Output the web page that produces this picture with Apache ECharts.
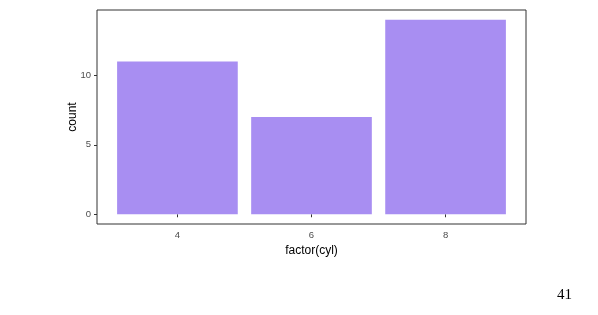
<!DOCTYPE html>
<html>
<head>
<meta charset="utf-8">
<script src="https://cdn.jsdelivr.net/npm/echarts@6/dist/echarts.min.js"></script>
<style>
html,body{margin:0;padding:0;background:#fff;}
#chart{width:598px;height:315px;}
</style>
</head>
<body>
<div id="chart"></div>
<script>
const categories = ['4', '6', '8'];
const counts = [11, 7, 14];
const yTicks = [0, 5, 10];
const xTitle = 'factor(cyl)';
const yTitle = 'count';
const pageNumber = '41';

const yMin = -0.7, yMax = 14.7;
const chart = echarts.init(document.getElementById('chart'), null, {renderer: 'canvas'});
const font = 'Liberation Sans, Arial, sans-serif';

chart.setOption({
  animation: false,
  backgroundColor: '#ffffff',
  title: {
    text: pageNumber,
    left: 552, top: 283,
    textStyle: {fontFamily: 'Liberation Serif, DejaVu Serif, serif', fontSize: 15, fontWeight: 'normal', color: '#000'}
  },
  grid: [
    {left: 110.4, right: 85.4, top: 10, bottom: 91, containLabel: false},
    {left: 97, right: 72, top: 10, bottom: 91, show: true, borderColor: '#333333', borderWidth: 1, backgroundColor: 'transparent', z: 10}
  ],
  xAxis: [
    {
      type: 'category', gridIndex: 0, data: categories,
      axisLine: {show: false},
      axisTick: {show: true, alignWithLabel: true, length: 3, lineStyle: {color: '#333333'}},
      axisLabel: {color: '#4D4D4D', fontSize: 9.5, fontFamily: font, margin: 6},
      name: xTitle, nameLocation: 'middle', nameGap: 20,
      nameTextStyle: {color: '#000', fontSize: 12, fontFamily: font},
      splitLine: {show: false}
    },
    {
      type: 'value', gridIndex: 1, show: false, min: 0, max: 1
    }
  ],
  yAxis: [
    {type: 'value', gridIndex: 0, min: yMin, max: yMax, show: false, splitLine: {show: false}},
    {
      type: 'value', gridIndex: 1, min: yMin, max: yMax,
      axisLine: {show: false},
      axisTick: {show: true, length: 3, customValues: yTicks, lineStyle: {color: '#333333'}},
      axisLabel: {color: '#4D4D4D', fontSize: 9.5, fontFamily: font, margin: 6, customValues: yTicks},
      splitLine: {show: false},
      name: yTitle, nameLocation: 'middle', nameGap: 18, nameRotate: 90, nameMoveOverlap: false,
      nameTextStyle: {color: '#000', fontSize: 12, fontFamily: font}
    }
  ],
  series: [
    {
      type: 'bar', xAxisIndex: 0, yAxisIndex: 0,
      data: counts, barWidth: '90%',
      itemStyle: {color: '#A88EF2'}
    }
  ]
});
</script>
</body>
</html>
